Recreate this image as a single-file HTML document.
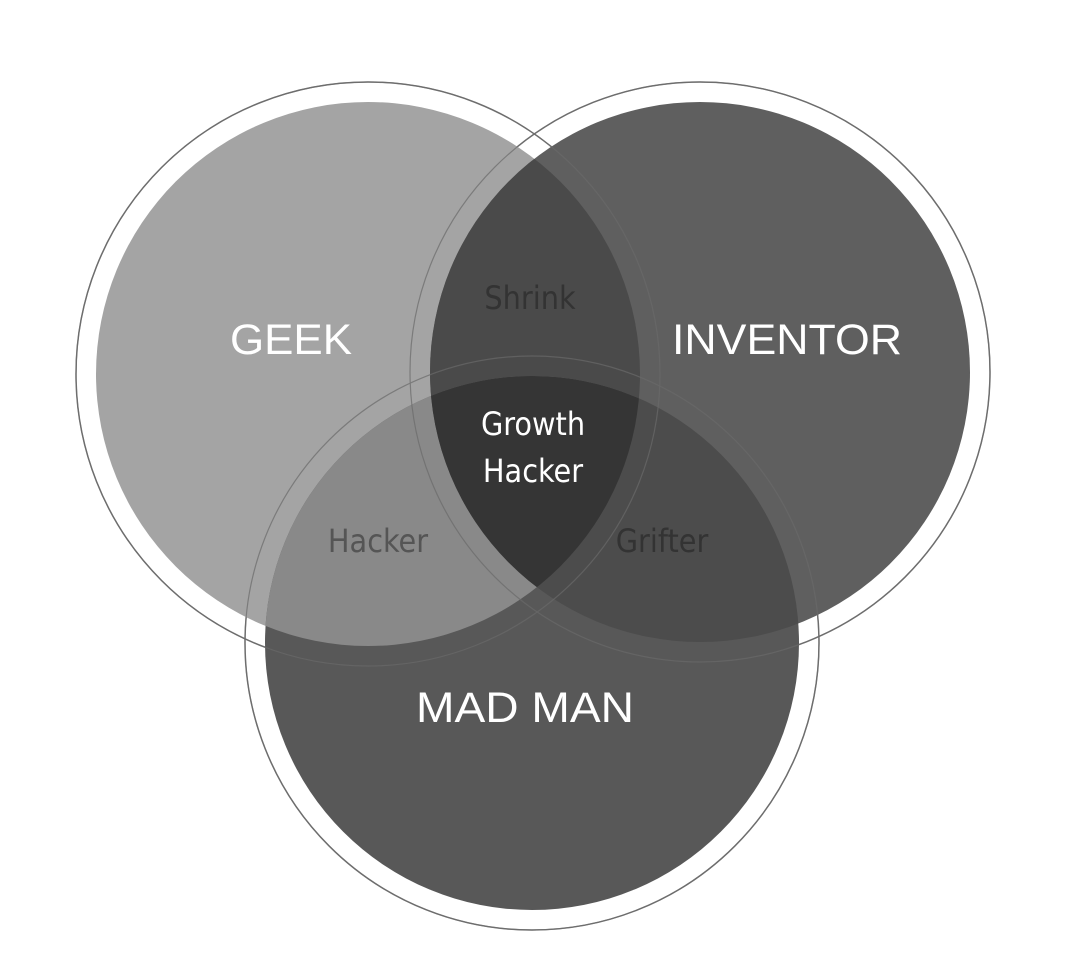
<!DOCTYPE html>
<html><head><style>html,body{margin:0;padding:0;background:#fff}svg{display:block}</style></head>
<body>
<svg width="1080" height="963" viewBox="0 0 1080 963" xmlns="http://www.w3.org/2000/svg">
<defs>
<clipPath id="g"><circle cx="368" cy="374" r="272"/></clipPath>
<clipPath id="i"><circle cx="700" cy="372" r="270"/></clipPath>
<clipPath id="m"><circle cx="532" cy="643" r="267"/></clipPath>
</defs>
<g fill="none" stroke="#777" stroke-width="1.5">
<circle cx="368" cy="374" r="292"/>
<circle cx="700" cy="372" r="290"/>
<circle cx="532" cy="643" r="287"/>
</g>
<circle cx="368" cy="374" r="272" fill="#a4a4a4"/>
<circle cx="700" cy="372" r="270" fill="#5f5f5f"/>
<circle cx="532" cy="643" r="267" fill="#585858"/>
<circle cx="700" cy="372" r="270" fill="#4a4a4a" clip-path="url(#g)"/>
<circle cx="532" cy="643" r="267" fill="#898989" clip-path="url(#g)"/>
<circle cx="532" cy="643" r="267" fill="#4c4c4c" clip-path="url(#i)"/>
<g clip-path="url(#g)"><circle cx="532" cy="643" r="267" fill="#353535" clip-path="url(#i)"/></g>
<g fill="none" stroke="#6a6a6a" stroke-width="1.2" opacity="0.7">
<circle cx="368" cy="374" r="292"/>
<circle cx="700" cy="372" r="290"/>
<circle cx="532" cy="643" r="287"/>
</g>
<g font-family="Liberation Sans, sans-serif" fill="#fff" text-anchor="middle">
<text x="291" y="354" font-size="43" textLength="122" lengthAdjust="spacingAndGlyphs">GEEK</text>
<text x="787" y="354" font-size="43" textLength="230" lengthAdjust="spacingAndGlyphs">INVENTOR</text>
<text x="525" y="722" font-size="43" textLength="218" lengthAdjust="spacingAndGlyphs">MAD MAN</text>
</g>
<g font-family="DejaVu Sans Condensed, Liberation Sans Narrow, sans-serif" text-anchor="middle" font-size="32" font-weight="500">
<text x="530" y="309" fill="#333">Shrink</text>
<text x="533" y="435" fill="#fff">Growth</text>
<text x="533" y="482" fill="#fff">Hacker</text>
<text x="378" y="552" fill="#555">Hacker</text>
<text x="662" y="552" fill="#333">Grifter</text>
</g>
</svg>
</body></html>
